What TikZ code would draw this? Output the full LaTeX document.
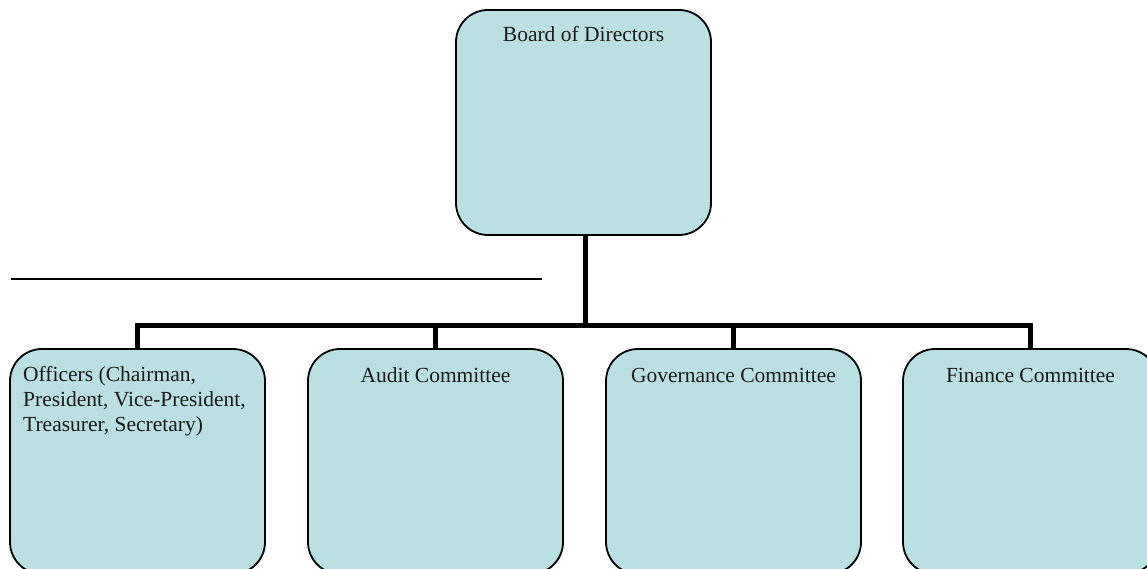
\documentclass[tikz,border=0pt]{standalone}
\usepackage{fontspec}
\setmainfont{Liberation Serif}
\definecolor{boxfill}{RGB}{187,224,227}
\begin{document}
\begin{tikzpicture}[x=1pt,y=-1pt,
  orgbox/.style={draw=black, line width=1.8pt, fill=boxfill, rounded corners=32pt,
    rectangle, minimum width=255pt, minimum height=225pt, inner sep=0pt},
  lbl/.style={inner sep=0pt, font=\fontsize{21.5}{25}\selectfont, text=black!90},
  conn/.style={draw=black, line width=5pt},
  rule/.style={draw=black, line width=1.6pt}]
\useasboundingbox (0,0) rectangle (1147,569);
\clip (0,0) rectangle (1147,569);
% boxes
\node[orgbox] (top) at (583.5,122.5) {};
\node[orgbox] (b1) at (137.5,461.5) {};
\node[orgbox] (b2) at (435.5,461.5) {};
\node[orgbox] (b3) at (733.5,461.5) {};
\node[orgbox] (b4) at (1030.5,461.5) {};
% labels
\node[lbl, anchor=base] (tt) at (583.5,42) {Board of Directors};
\node[lbl, anchor=north west, align=left] (t1) at (23,363)
  {\rule{0pt}{18pt}Officers (Chairman,\\President, Vice-President,\\Treasurer, Secretary)};
\node[lbl, anchor=base] (t2) at (435.5,382) {Audit Committee};
\node[lbl, anchor=base] (t3) at (733.5,382) {Governance Committee};
\node[lbl, anchor=base] (t4) at (1030.5,382) {Finance Committee};
% connectors
\coordinate (bar) at (585,325);
\coordinate (trunk) at (top.south -| bar);
\draw[conn] (trunk) -- (bar);
\draw[conn] (b1.north) -- (b1.north |- bar) -- (b4.north |- bar) -- (b4.north);
\draw[conn] (b2.north) -- (b2.north |- bar);
\draw[conn] (b3.north) -- (b3.north |- bar);
% stray line
\coordinate (la) at (11,279);
\coordinate (lb) at (542,279);
\draw[rule] (la) -- (lb);
\end{tikzpicture}
\end{document}
